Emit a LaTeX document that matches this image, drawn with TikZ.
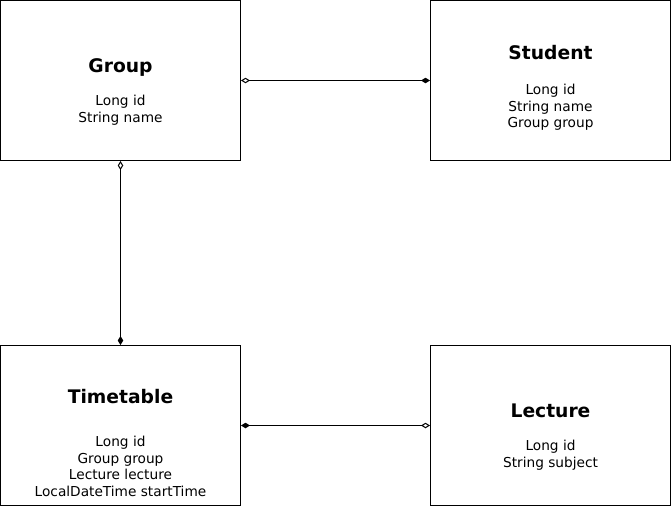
\documentclass[tikz,border=0pt]{standalone}
\usepackage{fontspec}
\setmainfont{DejaVu Sans}
\usetikzlibrary{arrows.meta}

\tikzset{
  entity/.style={draw, thin, line width=1pt, minimum width=240pt, minimum height=160pt, inner sep=0pt},
  title/.style={font=\fontsize{18.7}{21}\selectfont\bfseries, anchor=base, inner sep=0pt},
  fields/.style={font=\fontsize{13.7}{16.7}\selectfont, align=center, inner sep=0pt},
  link/.style={line width=1pt, {Diamond[open,length=9pt,width=5.5pt]}-{Diamond[length=9pt,width=5.5pt]}},
}

\begin{document}
\begin{tikzpicture}[x=1pt,y=-1pt]
    \useasboundingbox (-0.5,-0.5) rectangle (670.5,505.5);
    % the four classes
    \node[entity] (group) at (120,80) {};
    \node[entity] (student) at (550,80) {};
    \node[entity] (timetable) at (120,425) {};
    \node[entity] (lecture) at (550,425) {};
    % titles and fields
    \node[title] (grouptitle) at (120,72) {Group};
    \node[fields] (groupfields) at (120,110) {Long id\\String name};
    \node[title] (studenttitle) at (550,59) {Student};
    \node[fields] (studentfields) at (550,107) {Long id\\String name\\Group group};
    \node[title] (timetabletitle) at (120,403) {Timetable};
    \node[fields] (timetablefields) at (120,466) {Long id\\Group group\\Lecture lecture\\LocalDateTime startTime};
    \node[title] (lecturetitle) at (550,417) {Lecture};
    \node[fields] (lecturefields) at (550,455) {Long id\\String subject};
    % associations
    \draw[link] (group.east) -- (student.west);
    \draw[link] (group.south) -- (timetable.north);
    \draw[link] (lecture.west) -- (timetable.east);
\end{tikzpicture}
\end{document}
